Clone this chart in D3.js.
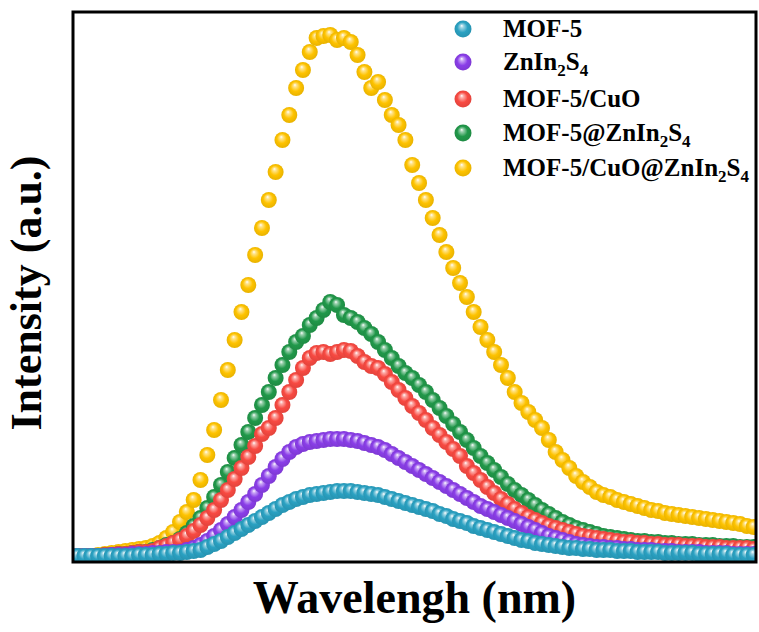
<!DOCTYPE html>
<html>
<head>
<meta charset="utf-8">
<script src="https://cdn.jsdelivr.net/npm/d3@7"></script>
<style>
  body { margin: 0; background: #fff; }
  svg { display: block; }
</style>
</head>
<body>
<svg id="chart"></svg>
<script>
// legend order
const seriesNames = ["MOF-5", "ZnIn2S4", "MOF-5/CuO", "MOF-5@ZnIn2S4", "MOF-5/CuO@ZnIn2S4"];
const seriesColors = ["#2aa1c2", "#8a3ee8", "#f84a42", "#21984a", "#fec300"];

// wavelength grid (nm): first point and spacing
const wlStart = 352;
const wlStep = 3;

// intensities (a.u.)
const mof5 = [6,6,6,6,6,6,6,6,6,7,7,7,8,8,9,9,10,11,12,15,18,21,25,29,33,37,41,45,49,53,57,60,63,65,67,68,69,70,71,71,
  71,70,69,68,67,65,63,61,59,57,55,53,51,48,46,43,41,39,36,34,32,30,28,26,24,22,21,19,18,17,16,15,14,14,13,13,12,12,12,11,
  11,11,10,10,10,10,9,9,9,9,9,8,8,8,8,8,7,7,7,7];
const znIn2S4 = [6,6,6,6,6,7,7,7,8,8,8,9,9,10,10,10,12,14,17,21,26,32,38,45,52,60,68,77,86,95,103,110,115,118,120,121,122,123,123,123,
  122,121,119,117,115,112,108,104,100,96,92,88,84,80,76,72,68,64,60,56,53,50,47,44,41,38,35,32,29,26,24,22,20,18,17,16,15,15,14,14,
  13,13,12,12,12,11,11,11,10,10,10,10,9,9,9,9,8,8,8,8];
const mof5CuO = [6,6,6,6,7,7,8,8,9,10,10,11,14,16,19,22,26,31,37,44,52,62,72,83,94,105,116,128,134,144,157,170,182,194,204,209,210,208,210,212,
  211,206,200,196,194,188,180,172,164,156,149,142,134,127,120,113,106,96,89,82,75,69,63,58,53,49,45,42,39,36,34,32,30,28,26,25,24,23,22,21,
  20,20,19,19,18,18,17,17,17,16,16,16,15,15,15,14,14,14,14,13];
const mof5AtZnIn2S4 = [6,6,6,6,7,7,8,8,9,10,10,12,14,17,19,23,29,36,44,54,65,77,90,104,117,130,144,157,170,184,197,210,220,226,237,244,252,260,257,247,
  244,240,234,228,220,212,204,196,189,184,177,170,162,154,146,138,130,122,114,106,99,92,85,78,72,67,62,57,52,48,44,40,37,34,32,30,28,26,25,24,
  23,22,21,21,20,20,19,19,18,18,18,17,17,17,16,16,16,15,15,15];
const mof5CuOAtZnIn2S4 = [6,6,6,7,8,9,10,11,12,13,14,16,19,24,30,40,50,62,82,107,132,162,192,222,250,277,307,334,362,390,422,447,474,492,510,524,526,527,522,524,
  520,507,490,474,480,462,447,437,422,397,379,362,344,327,310,294,279,265,250,235,222,210,197,184,170,159,150,142,134,122,110,102,94,86,80,75,70,67,65,62,
  60,58,56,54,52,51,49,48,47,46,45,44,43,42,41,40,39,38,36,35];

const seriesValues = [mof5, znIn2S4, mof5CuO, mof5AtZnIn2S4, mof5CuOAtZnIn2S4];

const W = 759, H = 632;
const plot = { left: 73, right: 756, top: 12, bottom: 562 };

const svg = d3.select("#chart").attr("width", W).attr("height", H);

const x = d3.scaleLinear().domain([350, 650]).range([plot.left, plot.right]);
const y = d3.scaleLinear().domain([0, 550]).range([plot.bottom, plot.top]);

// shiny ball gradients
const defs = svg.append("defs");
seriesColors.forEach((c, i) => {
  const g = defs.append("radialGradient")
    .attr("id", "ball" + i)
    .attr("cx", "50%").attr("cy", "50%").attr("r", "55%")
    .attr("fx", "42%").attr("fy", "30%");
  g.append("stop").attr("offset", "0%").attr("stop-color", "#ffffff");
  g.append("stop").attr("offset", "18%").attr("stop-color", d3.interpolateRgb("#ffffff", c)(0.45));
  g.append("stop").attr("offset", "55%").attr("stop-color", c);
  g.append("stop").attr("offset", "100%").attr("stop-color", d3.color(c).darker(0.3));
});

defs.append("clipPath").attr("id", "plotClip")
  .append("rect")
  .attr("x", plot.left).attr("y", plot.top)
  .attr("width", plot.right - plot.left).attr("height", plot.bottom - plot.top);

const pointsLayer = svg.append("g").attr("clip-path", "url(#plotClip)");

// back to front: yellow, green, red, purple, teal
const drawOrder = [4, 3, 2, 1, 0];
drawOrder.forEach(si => {
  pointsLayer.append("g")
    .selectAll("circle")
    .data(seriesValues[si])
    .enter()
    .append("circle")
    .attr("cx", (d, i) => x(wlStart + i * wlStep))
    .attr("cy", d => y(d))
    .attr("r", 8)
    .attr("fill", `url(#ball${si})`);
});

// frame
svg.append("rect")
  .attr("x", plot.left).attr("y", plot.top)
  .attr("width", plot.right - plot.left).attr("height", plot.bottom - plot.top)
  .attr("fill", "none")
  .attr("stroke", "#000")
  .attr("stroke-width", 3);

const serif = "'Liberation Serif', 'Times New Roman', serif";

// text with subscripted digits after letters
function addChemText(sel, str, size) {
  for (let k = 0; k < str.length; k++) {
    const ch = str[k];
    const isSub = /\d/.test(ch) && k > 0 && /[A-Za-z]/.test(str[k - 1]);
    const t = sel.append("tspan").text(ch);
    if (isSub) {
      t.attr("font-size", size * 0.68).attr("dy", size * 0.22);
    } else if (k > 0 && /\d/.test(str[k - 1]) && /[A-Za-z]/.test(str[k - 2] || "")) {
      t.attr("dy", -size * 0.22);
    }
  }
}

// legend
const legendY = [29, 62, 99, 133, 168];
const legend = svg.append("g");
seriesNames.forEach((name, i) => {
  legend.append("circle")
    .attr("cx", 463).attr("cy", legendY[i]).attr("r", 8.5)
    .attr("fill", `url(#ball${i})`);
  const t = legend.append("text")
    .attr("x", 503).attr("y", legendY[i] + 8)
    .attr("font-family", serif)
    .attr("font-weight", "bold")
    .attr("font-size", 25)
    .attr("fill", "#000");
  addChemText(t, name, 25);
});

// axis titles
svg.append("text")
  .attr("x", (plot.left + plot.right) / 2).attr("y", 613)
  .attr("text-anchor", "middle")
  .attr("font-family", serif).attr("font-weight", "bold").attr("font-size", 46)
  .text("Wavelengh (nm)");

svg.append("text")
  .attr("transform", `translate(41,${(plot.top + plot.bottom) / 2 + 6}) rotate(-90)`)
  .attr("text-anchor", "middle")
  .attr("font-family", serif).attr("font-weight", "bold").attr("font-size", 44)
  .text("Intensity (a.u.)");
</script>
</body>
</html>
